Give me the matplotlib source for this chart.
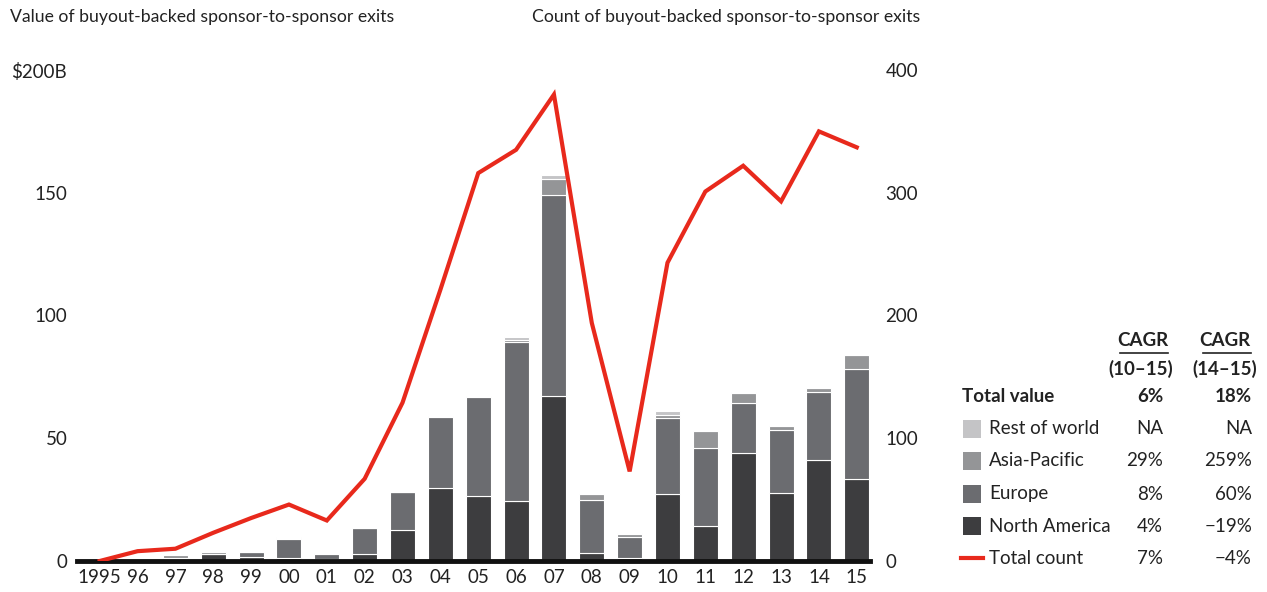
import numpy as np
import matplotlib
matplotlib.use("Agg")
from matplotlib import pyplot as plt
from matplotlib.lines import Line2D
from matplotlib.patches import Rectangle

plt.rcParams['font.family'] = ['Lato', 'DejaVu Sans']

years = ['1995', '96', '97', '98', '99', '00', '01', '02', '03', '04', '05',
         '06', '07', '08', '09', '10', '11', '12', '13', '14', '15']

# value of exits, $B
north_america = [0.0, 0.2, 1.0, 2.7, 1.8, 1.4, 1.0, 2.7, 12.5, 29.6, 26.3,
                 24.4, 67.2, 3.1, 1.1, 27.3, 14.3, 43.9, 27.8, 41.0, 33.3]
europe = [0.0, 0.1, 0.3, 0.3, 1.7, 7.4, 2.0, 10.7, 15.6, 29.0, 40.7,
          65.0, 82.0, 21.7, 8.8, 31.1, 31.7, 20.5, 25.6, 28.0, 44.8]
asia_pacific = [0.0, 0.0, 1.2, 0.5, 0.2, 0.5, 0.1, 0.0, 0.2, 0.3, 0.3,
                0.8, 6.3, 2.4, 1.1, 1.1, 7.1, 3.9, 1.7, 1.5, 5.9]
rest_of_world = [0.0, 0.0, 0.0, 0.0, 0.0, 0.5, 0.0, 0.0, 0.0, 0.0, 0.0,
                 1.2, 1.6, 0.0, 0.4, 1.7, 0.0, 0.7, 0.0, 0.0, 0.0]

# count of exits
total_count = [0, 8, 10, 23, 35, 46, 33, 67, 129, 221, 316,
               335, 380, 194, 73, 243, 301, 322, 293, 350, 337]

legend_labels = ['Rest of world', 'Asia-Pacific', 'Europe', 'North America', 'Total count']
cagr_10_15 = ['NA', '29%', '8%', '4%', '7%']
cagr_14_15 = ['NA', '259%', '60%', '\u221219%', '\u22124%']
total_value_cagr = ['6%', '18%']

colors = {'na': '#3d3d3f', 'eu': '#6b6c70', 'ap': '#949597', 'row': '#c4c4c6'}
red = '#e8291c'

W, H = 1267, 592
fig = plt.figure(figsize=(W / 100, H / 100), dpi=100)


def fx(px):
    return px / W


def fy(py):
    return 1 - py / H


ax = fig.add_axes([fx(77), fy(561), fx(870) - fx(77), fy(70) - fy(561)])
x = np.arange(len(years))
bottom = np.zeros(len(years))
for vals, key in [(north_america, 'na'), (europe, 'eu'),
                  (asia_pacific, 'ap'), (rest_of_world, 'row')]:
    ax.bar(x, vals, width=0.66, bottom=bottom, color=colors[key],
           edgecolor='white', linewidth=0.8, zorder=2)
    bottom += np.array(vals)

ax.set_xlim(-0.6, 20.35)
ax.set_ylim(0, 200)
ax.set_yticks([0, 50, 100, 150, 200])
ax.set_yticklabels(['0', '50', '100', '150', '$200B'])
ax.set_xticks(x)
ax.set_xticklabels(years)
ax.tick_params(length=0, labelsize=13.5, colors='#222222')
ax.tick_params(axis='y', pad=7)
ax.tick_params(axis='x', pad=6)
for s in ax.spines.values():
    s.set_visible(False)
ax.axhline(0, color='#111111', linewidth=3.5, zorder=4, clip_on=False)

ax2 = ax.twinx()
ax2.plot(x, total_count, color=red, linewidth=3, zorder=5, solid_joinstyle='miter')
ax2.set_ylim(0, 400)
ax2.set_yticks([0, 100, 200, 300, 400])
ax2.tick_params(length=0, labelsize=13.5, colors='#222222', pad=11)
for s in ax2.spines.values():
    s.set_visible(False)

fig.text(fx(10), fy(17), 'Value of buyout-backed sponsor-to-sponsor exits',
         fontsize=12.7, va='center', ha='left', color='#222222')
fig.text(fx(920), fy(17), 'Count of buyout-backed sponsor-to-sponsor exits',
         fontsize=12.7, va='center', ha='right', color='#222222')

# legend table
col1, col2 = 1163, 1252
fs = 13.5
headers = [(1168, 1173, '(10\u201315)'), (1251, 1257, '(14\u201315)')]
for hx, sx, sub in headers:
    fig.text(fx(hx), fy(341), 'CAGR', fontsize=fs, fontweight='bold', ha='right',
             va='center', color='#222222')
    fig.text(fx(sx), fy(369), sub, fontsize=fs, fontweight='bold', ha='right',
             va='center', color='#222222')
    fig.add_artist(Line2D([fx(hx - 48), fx(hx)], [fy(353), fy(353)],
                          color='#222222', linewidth=1.2))

fig.text(fx(962), fy(397), 'Total value', fontsize=fs, fontweight='bold',
         ha='left', va='center', color='#222222')
fig.text(fx(col1), fy(397), total_value_cagr[0], fontsize=fs, fontweight='bold',
         ha='right', va='center', color='#222222')
fig.text(fx(col2), fy(397), total_value_cagr[1], fontsize=fs, fontweight='bold',
         ha='right', va='center', color='#222222')

row_y = [429, 461, 494, 526, 558]
swatch = [colors['row'], colors['ap'], colors['eu'], colors['na'], None]
for yy, lab, c1, c2, col in zip(row_y, legend_labels, cagr_10_15, cagr_14_15, swatch):
    if col is None:
        fig.add_artist(Line2D([fx(961), fx(983)], [fy(yy), fy(yy)],
                              color=red, linewidth=3))
    else:
        fig.add_artist(Rectangle((fx(963), fy(yy + 9)), fx(18), 18 / H,
                                 color=col, linewidth=0))
    fig.text(fx(989), fy(yy), lab, fontsize=fs, ha='left', va='center', color='#222222')
    fig.text(fx(col1), fy(yy), c1, fontsize=fs, ha='right', va='center', color='#222222')
    fig.text(fx(col2), fy(yy), c2, fontsize=fs, ha='right', va='center', color='#222222')

fig.savefig('out.png', dpi=100)
